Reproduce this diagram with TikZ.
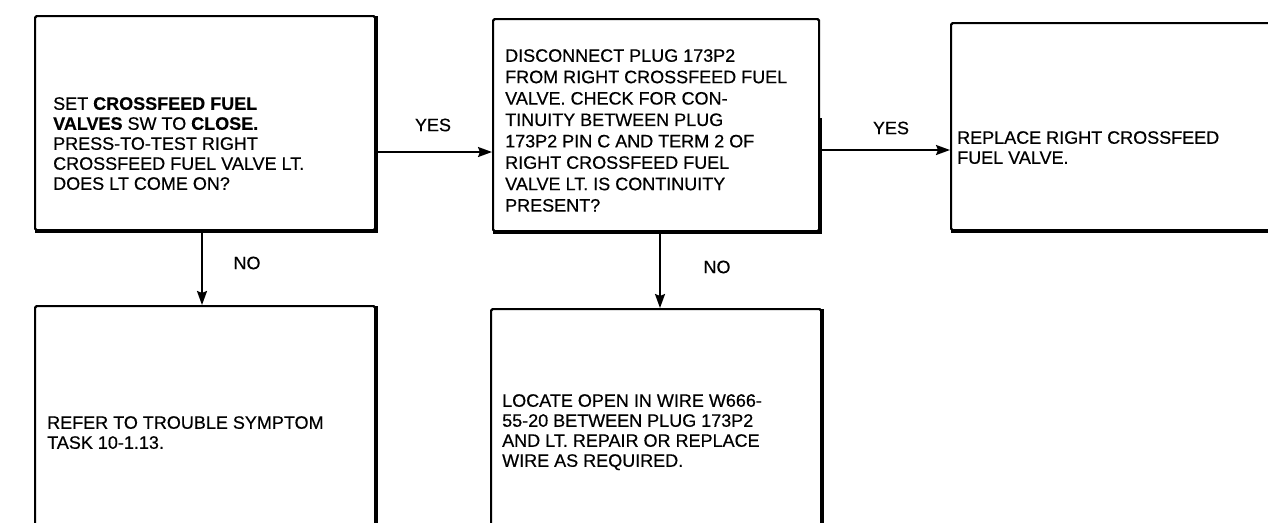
\documentclass[tikz,border=0pt]{standalone}
\usepackage{fontspec}
\setmainfont{Liberation Sans}[FakeBold=0.5]
\usetikzlibrary{arrows.meta}
\begin{document}
\begin{tikzpicture}[x=1pt,y=-1pt,
  box/.style={draw, line width=2.2pt, rounded corners=1.5pt, anchor=north west, inner sep=0pt},
  heavy/.style={line width=4pt},
  txt/.style={anchor=north west, inner sep=0pt, align=left, font=\fontsize{18}{20}\selectfont},
  lbl/.style={inner sep=0pt, font=\fontsize{18}{20}\selectfont},
  arr/.style={line width=2pt, -{Stealth[length=14pt,width=10pt,inset=2pt]}}]
\useasboundingbox (0,0) rectangle (1268,522);
\clip (0,0) rectangle (1268,522);
% boxes
\node[box, minimum width=340pt, minimum height=214pt] (A) at (34,15) {};
\node[box, minimum width=326pt, minimum height=212pt] (B) at (492,18) {};
\node[box, minimum width=340pt, minimum height=207pt] (C) at (950,22) {};
\node[box, minimum width=340pt, minimum height=240pt] (D) at (34,305) {};
\node[box, minimum width=330pt, minimum height=240pt] (E) at (490,308) {};
% heavy edges
\draw[heavy] ([yshift=-1pt]A.north east) -- (A.south east) -- ([xshift=1pt]A.south west);
\draw[heavy] ([yshift=-100pt]B.north east) -- (B.south east) -- ([xshift=1pt]B.south west);
\draw[heavy] ([xshift=1pt]C.south west) -- (C.south east);
\draw[heavy] ([yshift=-1pt]D.north east) -- (D.south east);
\draw[heavy] ([yshift=-1pt]E.north east) -- (E.south east);
% texts
\node[txt] (tA) at (53,97) {SET \textbf{CROSSFEED FUEL}\\\textbf{VALVES} SW TO \textbf{CLOSE.}\\PRESS-TO-TEST RIGHT\\CROSSFEED FUEL VALVE LT.\\DOES LT COME ON?};
\node[txt, font=\fontsize{18}{21.4}\selectfont] (tB) at (505,49) {DISCONNECT PLUG 173P2\\FROM RIGHT CROSSFEED FUEL\\VALVE. CHECK FOR CON-\\TINUITY BETWEEN PLUG\\173P2 PIN C AND TERM 2 OF\\RIGHT CROSSFEED FUEL\\VALVE LT. IS CONTINUITY\\PRESENT?};
\node[txt] (tC) at (957,131) {REPLACE RIGHT CROSSFEED\\FUEL VALVE.};
\node[txt] (tD) at (47,416) {REFER TO TROUBLE SYMPTOM\\TASK 10-1.13.};
\node[txt] (tE) at (502,394) {LOCATE OPEN IN WIRE W666-\\55-20 BETWEEN PLUG 173P2\\AND LT. REPAIR OR REPLACE\\WIRE AS REQUIRED.};
% connectors
\coordinate (yAB) at (0,152);
\coordinate (yBC) at (0,150);
\draw[arr] (A.east |- yAB) -- (B.west |- yAB);
\draw[arr] (B.east |- yBC) -- (C.west |- yBC);
\coordinate (xAD) at (202,0);
\coordinate (xBE) at (660,0);
\draw[arr] (A.south -| xAD) -- (D.north -| xAD);
\draw[arr] (B.south -| xBE) -- (E.north -| xBE);
% labels
\node[lbl] (l1) at (433,125) {YES};
\node[lbl] (l2) at (891,128) {YES};
\node[lbl] (l3) at (247,263) {NO};
\node[lbl] (l4) at (717,267) {NO};
\end{tikzpicture}
\end{document}
